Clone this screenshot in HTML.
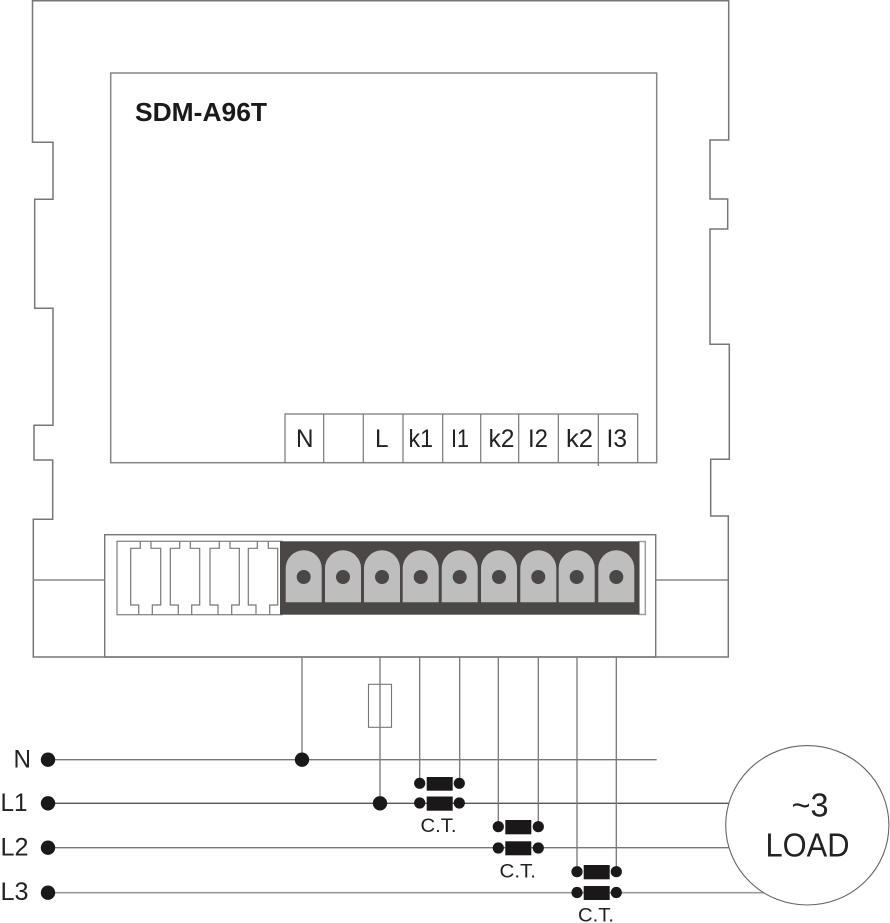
<!DOCTYPE html>
<html>
<head>
<meta charset="utf-8">
<style>
html,body{margin:0;padding:0;background:#fff}
svg{display:block}
text{font-family:"Liberation Sans",sans-serif;fill:#222}
</style>
</head>
<body>
<svg width="890" height="923" viewBox="0 0 890 923" xmlns="http://www.w3.org/2000/svg">
<rect width="890" height="923" fill="#fff"/>
<!-- outer housing -->
<path d="M32.5 0.7H728.7V140H710V199H727.7V229H710V344.3H729.3V459.3H710.7V516H728.3V657H33.3V519.3H52.7V460H34V425.3H53V308.3H34.7V199.3H53V142.3H32.5Z" fill="none" stroke="#777" stroke-width="1.5"/>
<!-- display panel -->
<rect x="110.7" y="73" width="546" height="389.7" fill="none" stroke="#858585" stroke-width="1.5"/>
<text x="135" y="121" font-size="26" font-weight="bold" textLength="132" lengthAdjust="spacingAndGlyphs" style="fill:#1a1a1a">SDM-A96T</text>
<!-- label strip -->
<g fill="none" stroke="#777" stroke-width="1.2">
<path d="M285 462.7V414H637.7V462.7"/>
<path d="M323.7 414V462.7M363.3 414V462.7M403 414V462.7M442.7 414V462.7M480.7 414V462.7M518.7 414V462.7M558.3 414V462.7M598.3 414V466"/>
</g>
<g font-size="25">
<text x="296" y="447" textLength="17.5" lengthAdjust="spacingAndGlyphs">N</text>
<text x="375" y="447" textLength="13.5" lengthAdjust="spacingAndGlyphs">L</text>
<text x="408.5" y="447" textLength="24.5" lengthAdjust="spacingAndGlyphs">k1</text>
<text x="451" y="447" textLength="18" lengthAdjust="spacingAndGlyphs">I1</text>
<text x="488.5" y="447" textLength="26" lengthAdjust="spacingAndGlyphs">k2</text>
<text x="528" y="447" textLength="20" lengthAdjust="spacingAndGlyphs">I2</text>
<text x="566" y="447" textLength="27" lengthAdjust="spacingAndGlyphs">k2</text>
<text x="606.5" y="447" textLength="20.5" lengthAdjust="spacingAndGlyphs">I3</text>
</g>
<!-- connector housing -->
<rect x="104.7" y="534.7" width="551" height="122.3" fill="none" stroke="#777" stroke-width="1.4"/>
<path d="M33 580H104.7M655.7 580H728.3" stroke="#888" stroke-width="1.5"/>
<!-- left terminal blanks -->
<rect x="117" y="541.3" width="165" height="73.4" fill="#fff" stroke="#888" stroke-width="1.3"/>
<g fill="none" stroke="#777" stroke-width="1.2">
<path d="M140.3 541.3V548.3H130.7V605H138.7V614.7M152.3 614.7V605H160.7V548.3H151V541.3"/>
<path d="M179.7 541.3V548.3H170.3V605H178.3V614.7M191.7 614.7V605H199.7V548.3H190.3V541.3"/>
<path d="M219.3 541.3V548.3H210V605H218V614.7M231.7 614.7V605H239.3V548.3H230V541.3"/>
<path d="M257.3 541.3V548.3H248.3V605H256V614.7M269.7 614.7V605H277.7V548.3H268.3V541.3"/>
</g>
<!-- dark terminal block -->
<rect x="639" y="541.5" width="6.3" height="73" fill="#fff" stroke="#999" stroke-width="1.4"/>
<rect x="280" y="541.3" width="359.3" height="73.4" fill="#4a4746"/>
<g fill="#bfbebe">
<path d="M285.7 602.3V568.3A18 18 0 0 1 321.7 568.3V602.3Z"/>
<path d="M325 602.3V568.3A18 18 0 0 1 361 568.3V602.3Z"/>
<path d="M364 602.3V568.3A18 18 0 0 1 400 568.3V602.3Z"/>
<path d="M402.7 602.3V568.3A18 18 0 0 1 438.7 568.3V602.3Z"/>
<path d="M441.7 602.3V568.3A18 18 0 0 1 477.7 568.3V602.3Z"/>
<path d="M481 602.3V568.3A18 18 0 0 1 517 568.3V602.3Z"/>
<path d="M520.3 602.3V568.3A18 18 0 0 1 556.3 568.3V602.3Z"/>
<path d="M558.7 602.3V568.3A18 18 0 0 1 594.7 568.3V602.3Z"/>
<path d="M598.3 602.3V568.3A18 18 0 0 1 634.3 568.3V602.3Z"/>
</g>
<g fill="#4a4746">
<circle cx="303.7" cy="577" r="7"/><circle cx="343" cy="577" r="7"/><circle cx="382" cy="577" r="7"/>
<circle cx="420.7" cy="577" r="7"/><circle cx="459.7" cy="577" r="7"/><circle cx="499" cy="577" r="7"/>
<circle cx="538.3" cy="577" r="7"/><circle cx="576.7" cy="577" r="7"/><circle cx="616.3" cy="577" r="7"/>
</g>
<!-- bus lines -->
<path d="M48 759.7H656.7" stroke="#777" stroke-width="1.4"/>
<path d="M48 803.3H730" stroke="#555" stroke-width="1.3"/>
<path d="M48 847.7H730" stroke="#777" stroke-width="1.4"/>
<path d="M48 892.7H770" stroke="#999" stroke-width="1.6"/>
<!-- vertical wires -->
<g stroke="#777" stroke-width="1.3" fill="none">
<path d="M302 657V759.7"/>
<path d="M380 657V803.3"/>
<path d="M419.7 657V783.3M459.7 657V783.3"/>
<path d="M498.3 657V826.7M538.3 657V826.7"/>
<path d="M577 657V871.7M616.3 657V871.7"/>
</g>
<!-- fuse -->
<rect x="368.5" y="684.3" width="23" height="43" fill="none" stroke="#777" stroke-width="1.1"/>
<!-- bus dots -->
<g fill="#1a1818">
<circle cx="48" cy="759.7" r="7.2"/><circle cx="48" cy="803.3" r="7.2"/>
<circle cx="48" cy="847.7" r="7.2"/><circle cx="48" cy="892.7" r="7.2"/>
<circle cx="302" cy="759.7" r="7.2"/><circle cx="380" cy="803.3" r="7.2"/>
<!-- CT1 -->
<circle cx="419.7" cy="783.3" r="5.6"/><circle cx="459.3" cy="783.3" r="5.6"/>
<circle cx="419.7" cy="803" r="5.6"/><circle cx="459.3" cy="803" r="5.6"/>
<rect x="426.7" y="777" width="26" height="13.7"/><rect x="426.7" y="796.5" width="26" height="14.2"/>
<!-- CT2 -->
<circle cx="498.3" cy="826.7" r="5.6"/><circle cx="538.3" cy="826.7" r="5.6"/>
<circle cx="498.3" cy="848" r="5.6"/><circle cx="538.3" cy="848" r="5.6"/>
<rect x="505.3" y="820" width="26" height="14.3"/><rect x="505.3" y="841.3" width="26" height="14"/>
<!-- CT3 -->
<circle cx="577" cy="871.7" r="5.6"/><circle cx="616.3" cy="871.7" r="5.6"/>
<circle cx="577" cy="892.5" r="5.6"/><circle cx="616.3" cy="892.5" r="5.6"/>
<rect x="583.7" y="865" width="26" height="14.3"/><rect x="583.7" y="886" width="26" height="14"/>
</g>
<g font-size="19" style="fill:#333">
<text x="420.5" y="832" textLength="36" lengthAdjust="spacingAndGlyphs">C.T.</text>
<text x="499.5" y="877.5" textLength="36.5" lengthAdjust="spacingAndGlyphs">C.T.</text>
<text x="578" y="921.7" textLength="36" lengthAdjust="spacingAndGlyphs">C.T.</text>
</g>
<!-- load -->
<ellipse cx="807.3" cy="825.3" rx="81.6" ry="79.7" fill="#fff" stroke="#666" stroke-width="1.1"/>
<text x="791.5" y="816.7" font-size="33" textLength="37" lengthAdjust="spacingAndGlyphs">~3</text>
<text x="765.5" y="856.7" font-size="33" textLength="84" lengthAdjust="spacingAndGlyphs">LOAD</text>
<!-- line labels -->
<g font-size="25">
<text x="13.5" y="767.7" textLength="17.5" lengthAdjust="spacingAndGlyphs">N</text>
<text x="0.5" y="811" textLength="27" lengthAdjust="spacingAndGlyphs">L1</text>
<text x="0.5" y="855.7" textLength="28" lengthAdjust="spacingAndGlyphs">L2</text>
<text x="0.5" y="900" textLength="28" lengthAdjust="spacingAndGlyphs">L3</text>
</g>
</svg>
</body>
</html>
